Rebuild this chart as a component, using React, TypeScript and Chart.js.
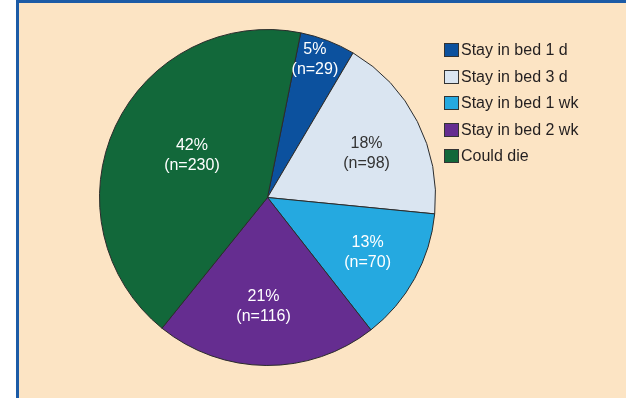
import React, { useEffect, useRef } from "react";
import { Chart, registerables } from "chart.js";

Chart.register(...registerables);

const categories = [
  "Stay in bed 1 d",
  "Stay in bed 3 d",
  "Stay in bed 1 wk",
  "Stay in bed 2 wk",
  "Could die",
];
const counts = [29, 98, 70, 116, 230];
const sliceColors = ["#0C519E", "#DAE5F1", "#25A9E0", "#652D90", "#12683A"];
const labelColors = ["#FFFFFF", "#333333", "#FFFFFF", "#FFFFFF", "#FFFFFF"];
// label placement inside slices: fraction of radius and angle nudge (degrees)
const labelRadiusFrac = [0.866, 0.645, 0.68, 0.65, 0.515];
const labelAngleNudge = [-2, 3, 0, 1.6, 4];

const total = counts.reduce((a, b) => a + b, 0);
const percentLabels = counts.map((c) => `${Math.round((c / total) * 100)}%`);

const FONT = '"Liberation Sans", Arial, Helvetica, sans-serif';

const sliceLabelPlugin = {
  id: "sliceLabels",
  afterDatasetsDraw(chart: any) {
    const ctx = chart.ctx;
    const meta = chart.getDatasetMeta(0);
    ctx.save();
    ctx.font = `16px ${FONT}`;
    ctx.textAlign = "center";
    ctx.textBaseline = "middle";
    meta.data.forEach((arc: any, i: number) => {
      const p = arc.getProps(["x", "y", "startAngle", "endAngle", "outerRadius"], true);
      const mid = (p.startAngle + p.endAngle) / 2 + (labelAngleNudge[i] * Math.PI) / 180;
      const r = p.outerRadius * labelRadiusFrac[i];
      const x = p.x + Math.cos(mid) * r;
      const y = p.y + Math.sin(mid) * r;
      ctx.fillStyle = labelColors[i];
      ctx.fillText(percentLabels[i], x, y - 10);
      ctx.fillText(`(n=${counts[i]})`, x, y + 10);
    });
    ctx.restore();
  },
};

const legendPlugin = {
  id: "customLegend",
  afterDraw(chart: any) {
    const ctx = chart.ctx;
    const x0 = 444;
    const y0 = 50;
    const step = 26.6;
    ctx.save();
    ctx.font = `16px ${FONT}`;
    ctx.textBaseline = "middle";
    ctx.textAlign = "left";
    categories.forEach((label, i) => {
      const cy = Math.round(y0 + i * step);
      ctx.fillStyle = sliceColors[i];
      ctx.fillRect(x0, cy - 7, 15, 14);
      ctx.strokeStyle = "#333333";
      ctx.lineWidth = 1;
      ctx.strokeRect(x0 + 0.5, cy - 6.5, 14, 13);
      ctx.fillStyle = "#231F20";
      ctx.fillText(label, x0 + 17, cy + 0.5);
    });
    ctx.restore();
  },
};

export default function App() {
  const canvasRef = useRef<HTMLCanvasElement | null>(null);

  useEffect(() => {
    if (!canvasRef.current) return;
    const chart = new Chart(canvasRef.current, {
      type: "pie",
      data: {
        labels: categories,
        datasets: [
          {
            data: counts,
            backgroundColor: sliceColors,
            borderColor: "#2B2B2B",
            borderWidth: 1,
          },
        ],
      },
      options: {
        responsive: false,
        animation: false,
        devicePixelRatio: 1,
        rotation: 11.4,
        layout: { padding: { left: 99, top: 29, right: 190, bottom: 32 } },
        plugins: {
          legend: { display: false },
          tooltip: { enabled: false },
        },
      },
      plugins: [sliceLabelPlugin, legendPlugin],
    });
    return () => chart.destroy();
  }, []);

  return (
    <div
      style={{
        position: "fixed",
        left: 0,
        top: 0,
        width: 626,
        height: 398,
        background: "#FFFFFF",
        overflow: "hidden",
      }}
    >
      <div
        style={{
          position: "absolute",
          left: 16,
          top: 0,
          right: 0,
          bottom: 0,
          background: "#FCE4C4",
          borderTop: "3px solid #1C5BA6",
          borderLeft: "3px solid #1C5BA6",
          boxSizing: "border-box",
        }}
      />
      <canvas
        ref={canvasRef}
        width={626}
        height={398}
        style={{ position: "absolute", left: 0, top: 0, width: 626, height: 398 }}
      />
    </div>
  );
}
